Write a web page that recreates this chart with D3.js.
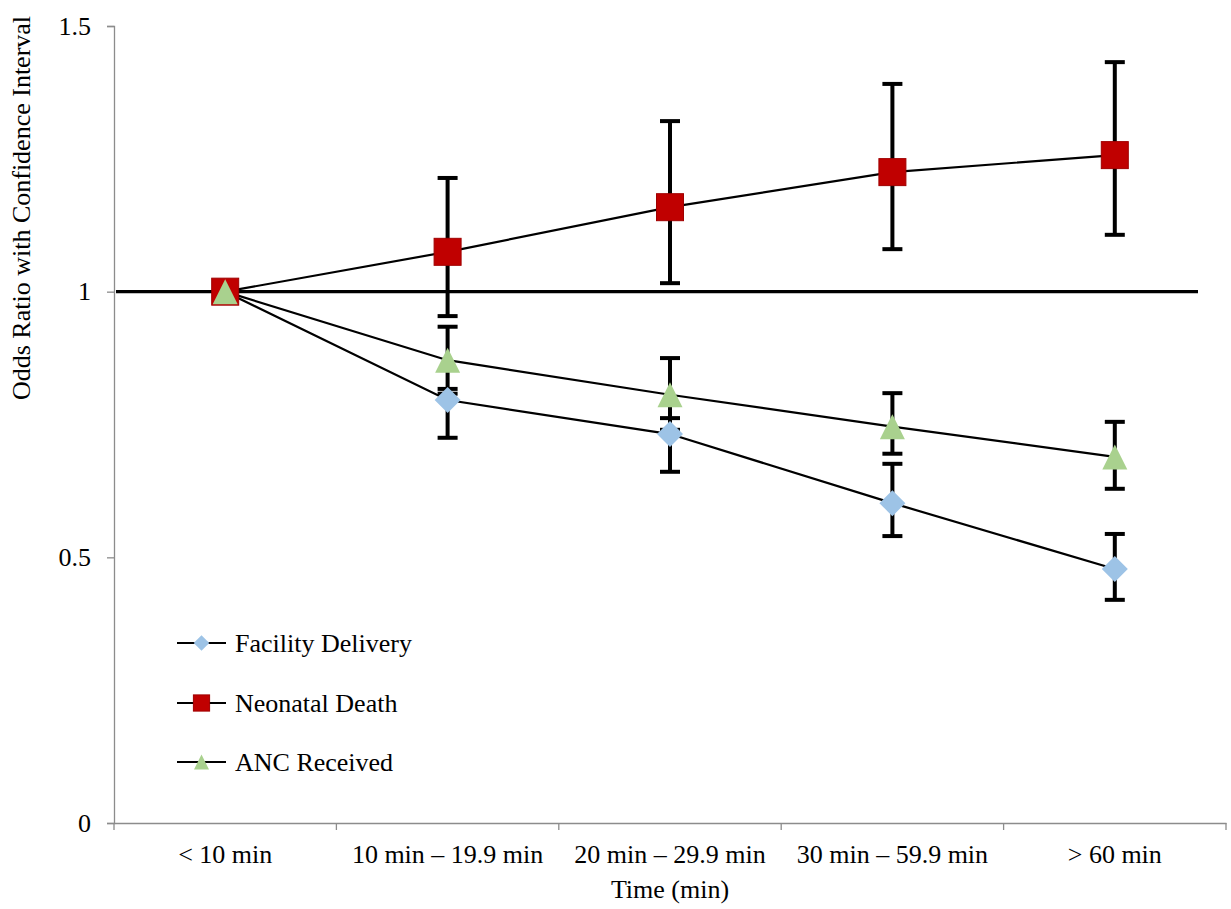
<!DOCTYPE html>
<html><head><meta charset="utf-8">
<script src="https://cdn.jsdelivr.net/npm/d3@7"></script>
<style>body{margin:0;background:#fff}svg{display:block}text{font-family:"Liberation Serif","Times New Roman",serif;fill:#000}</style>
</head><body><svg id="c" width="1231" height="909"></svg>
<script>
const categories = ["< 10 min","10 min \u2013 19.9 min","20 min \u2013 29.9 min","30 min \u2013 59.9 min","> 60 min"];
const facilityDelivery = [1, 0.796, 0.732, 0.602, 0.478];
const facilityUpper    = [null, 0.817, 0.762, 0.676, 0.544];
const facilityLower    = [null, 0.725, 0.661, 0.540, 0.420];
const neonatalDeath    = [1, 1.075, 1.159, 1.225, 1.257];
const neonatalUpper    = [null, 1.214, 1.321, 1.391, 1.432];
const neonatalLower    = [null, 0.954, 1.016, 1.080, 1.107];
const ancReceived      = [1, 0.871, 0.806, 0.746, 0.689];
const ancUpper         = [null, 0.934, 0.875, 0.809, 0.755];
const ancLower         = [null, 0.808, 0.740, 0.695, 0.629];
const yTicks = [0, 0.5, 1, 1.5];
const yTickLabels = ["0","0.5","1","1.5"];
const seriesNames = ["Facility Delivery","Neonatal Death","ANC Received"];

(function(){
const svg = d3.select("#c");
const mLeft = 114, mRight = 1226, mTop = 26, mBottom = 823;
const FS = "26px";
const x = d3.scaleBand().domain(categories).range([mLeft, mRight]);
const y = d3.scaleLinear().domain([0, 1.5]).range([mBottom, mTop]);
const cx = c => x(c) + x.bandwidth()/2;

const yAxis = d3.axisLeft(y).tickValues(yTicks).tickFormat((d,i)=>yTickLabels[i]).tickSize(7).tickPadding(16);
const gy = svg.append("g").attr("transform",`translate(${mLeft},0)`).call(yAxis);
gy.select(".domain").attr("stroke","#8c8c8c").attr("stroke-width",1.3);
gy.selectAll(".tick line").attr("stroke","#8c8c8c").attr("stroke-width",1.3);
gy.selectAll("text").style("font-size",FS).attr("font-family","Liberation Serif");

const xAxis = d3.axisBottom(x).tickSize(0).tickPadding(22);
const gx = svg.append("g").attr("transform",`translate(0,${mBottom})`).call(xAxis);
gx.select(".domain").attr("stroke","#8c8c8c").attr("stroke-width",1.3);
gx.selectAll("text").style("font-size",FS).attr("font-family","Liberation Serif");
const bounds = categories.map(c => x(c)).concat([mRight]);
gx.selectAll(".bt").data(bounds).enter().append("line")
  .attr("x1",d=>d).attr("x2",d=>d).attr("y1",0).attr("y2",7)
  .attr("stroke","#8c8c8c").attr("stroke-width",1.3);

svg.append("text").attr("x",(mLeft+mRight)/2).attr("y",898).attr("text-anchor","middle").style("font-size",FS).text("Time (min)");
svg.append("text").attr("transform",`translate(30,208) rotate(-90)`).attr("text-anchor","middle").style("font-size",FS).text("Odds Ratio with Confidence Interval");

svg.append("line").attr("x1",mLeft+2).attr("x2",1198).attr("y1",y(1)).attr("y2",y(1)).attr("stroke","#000").attr("stroke-width",3.2);

const series = [
  {name:seriesNames[0], v:facilityDelivery, up:facilityUpper, lo:facilityLower, color:"#9dc3e6", sym:"diamond"},
  {name:seriesNames[1], v:neonatalDeath, up:neonatalUpper, lo:neonatalLower, color:"#c00000", sym:"square"},
  {name:seriesNames[2], v:ancReceived, up:ancUpper, lo:ancLower, color:"#a9d18e", sym:"triangle"}
];

const line = d3.line().x((d,i)=>cx(categories[i])).y(d=>y(d));
series.forEach(s=>{
  svg.append("path").attr("d",line(s.v)).attr("fill","none").attr("stroke","#000").attr("stroke-width",2.2);
});
series.forEach(s=>{
  const g = svg.append("g");
  s.v.forEach((v,i)=>{
    if (s.up[i]==null) return;
    const X = cx(categories[i]);
    g.append("line").attr("x1",X).attr("x2",X).attr("y1",y(s.up[i])).attr("y2",y(s.lo[i])).attr("stroke","#000").attr("stroke-width",4);
    [s.up[i], s.lo[i]].forEach(e=>{
      g.append("line").attr("x1",X-10).attr("x2",X+10).attr("y1",y(e)).attr("y2",y(e)).attr("stroke","#000").attr("stroke-width",4);
    });
  });
});

function marker(g, sym, X, Y, color, scale){
  scale = scale||1;
  if (sym==="square"){
    const h = 13.5*scale;
    g.append("rect").attr("x",X-h).attr("y",Y-h).attr("width",2*h).attr("height",2*h).attr("fill",color).attr("stroke","#a00000").attr("stroke-width",1);
  } else if (sym==="diamond"){
    const h = 13*scale;
    g.append("path").attr("d",`M${X},${Y-h}L${X+h},${Y}L${X},${Y+h}L${X-h},${Y}Z`).attr("fill",color);
  } else {
    const h = 12.5*scale;
    g.append("path").attr("d",`M${X},${Y-h}L${X+h},${Y+h}L${X-h},${Y+h}Z`).attr("fill",color);
  }
}
series.forEach(s=>{
  const g = svg.append("g");
  s.v.forEach((v,i)=> marker(g, s.sym, cx(categories[i]), y(v), s.color));
});

const lg = svg.append("g");
const legendY = [643, 703, 762];
series.forEach((s,i)=>{
  const Y = legendY[i];
  lg.append("line").attr("x1",177).attr("x2",226).attr("y1",Y).attr("y2",Y).attr("stroke","#000").attr("stroke-width",2.2);
  marker(lg, s.sym, 201.5, Y, s.color, 0.6);
  lg.append("text").attr("x",235).attr("y",Y+9).style("font-size",FS).text(s.name);
});
})();
</script></body></html>
